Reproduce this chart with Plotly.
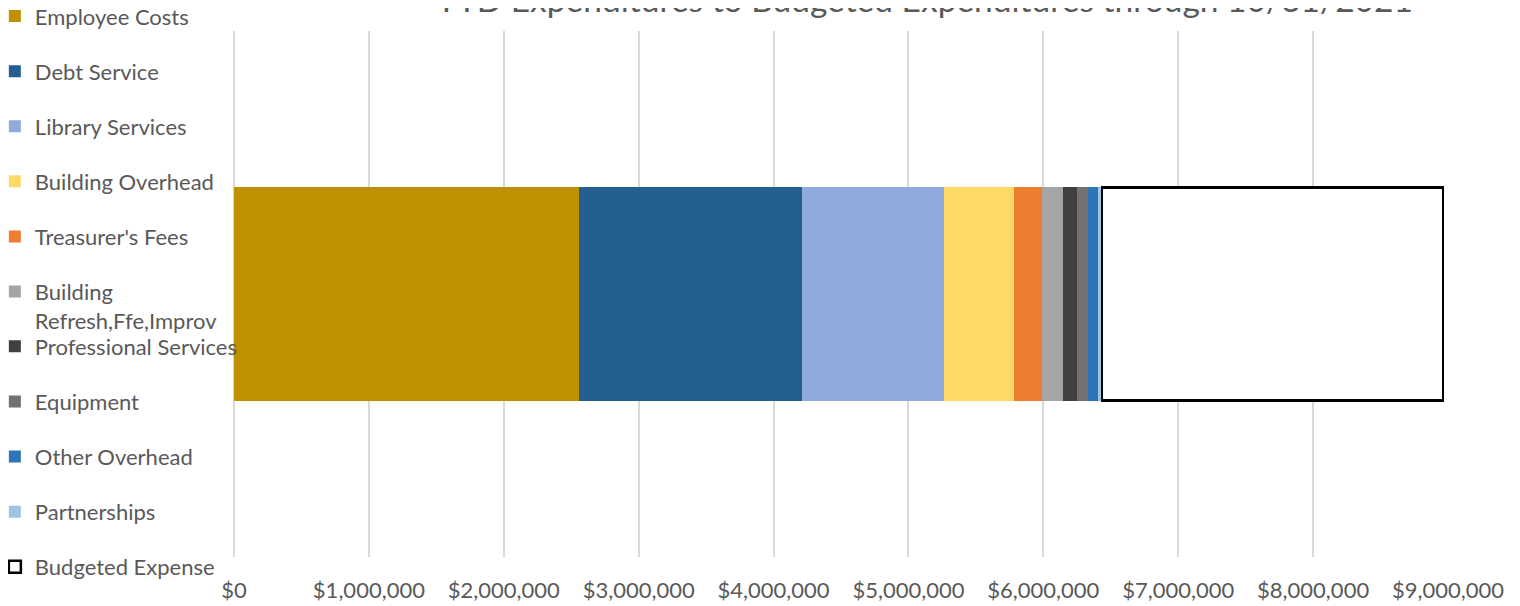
import plotly.graph_objects as go

categories = ["YTD"]
series_names = [
    "Employee Costs", "Debt Service", "Library Services", "Building Overhead",
    "Treasurer's Fees", "Building<br>Refresh,Ffe,Improv", "Professional Services",
    "Equipment", "Other Overhead", "Partnerships", "Budgeted Expense",
]
series_values = [2558000, 1654000, 1053000, 519000, 208000, 156000, 104000, 82000, 74000, 26000, 2530000]
series_colors = ["#BF9000", "#255E91", "#8FAADC", "#FFD966", "#ED7D31", "#A5A5A5",
                 "#404040", "#767171", "#2E75B6", "#9DC3E6", "#FFFFFF"]
tick_values = [0, 1000000, 2000000, 3000000, 4000000, 5000000, 6000000, 7000000, 8000000, 9000000]
tick_labels = ["$0", "$1,000,000", "$2,000,000", "$3,000,000", "$4,000,000", "$5,000,000",
               "$6,000,000", "$7,000,000", "$8,000,000", "$9,000,000"]
title_text = "YTD Expenditures to Budgeted Expenditures through 10/31/2021"

FONT = "Lato"
GREY = "#595959"

fig = go.Figure()
for i, (name, val, col) in enumerate(zip(series_names, series_values, series_colors)):
    is_budget = name == "Budgeted Expense"
    fig.add_trace(go.Bar(
        y=categories, x=[val], name=name, orientation="h",
        marker=dict(color=col,
                    line=dict(color="#000000" if is_budget else col, width=2.5 if is_budget else 0)),
        width=0.405,
        legendgroup=f"g{i}",
        legend="legend" if i < 6 else "legend2",
        hovertemplate="%{x:$,.0f}<extra>" + name + "</extra>",
    ))

legend_common = dict(
    font=dict(family=FONT, size=22, color=GREY),
    traceorder="grouped", tracegroupgap=23.5, itemwidth=30,
    xanchor="left", yanchor="top", valign="top",
    bgcolor="rgba(0,0,0,0)", borderwidth=0, maxheight=1,
)

fig.update_layout(
    width=1520, height=606,
    margin=dict(l=226, r=80, t=23, b=57, autoexpand=False),
    paper_bgcolor="white", plot_bgcolor="white",
    barmode="stack",
    showlegend=True,
    legend=dict(x=-0.197, y=1.068, **legend_common),
    legend2=dict(x=-0.197, y=0.44, **legend_common),
    xaxis=dict(range=[0, 9000000], tickvals=tick_values, ticktext=tick_labels,
               showgrid=True, gridcolor="#D9D9D9", gridwidth=2,
               zeroline=True, zerolinecolor="#D9D9D9", zerolinewidth=2,
               showline=False, ticks="", ticklabelstandoff=18,
               tickfont=dict(family=FONT, size=22, color=GREY)),
    yaxis=dict(showticklabels=False, showgrid=False, zeroline=False, showline=False,
               range=[-0.5, 0.5]),
    font=dict(family=FONT, color=GREY),
    annotations=[dict(text=title_text, xref="paper", yref="paper", x=0.5685, y=1.019,
                      xanchor="center", yanchor="bottom", showarrow=False,
                      font=dict(family=FONT, size=33.5, color=GREY))],
)

fig.write_html("out.html")
